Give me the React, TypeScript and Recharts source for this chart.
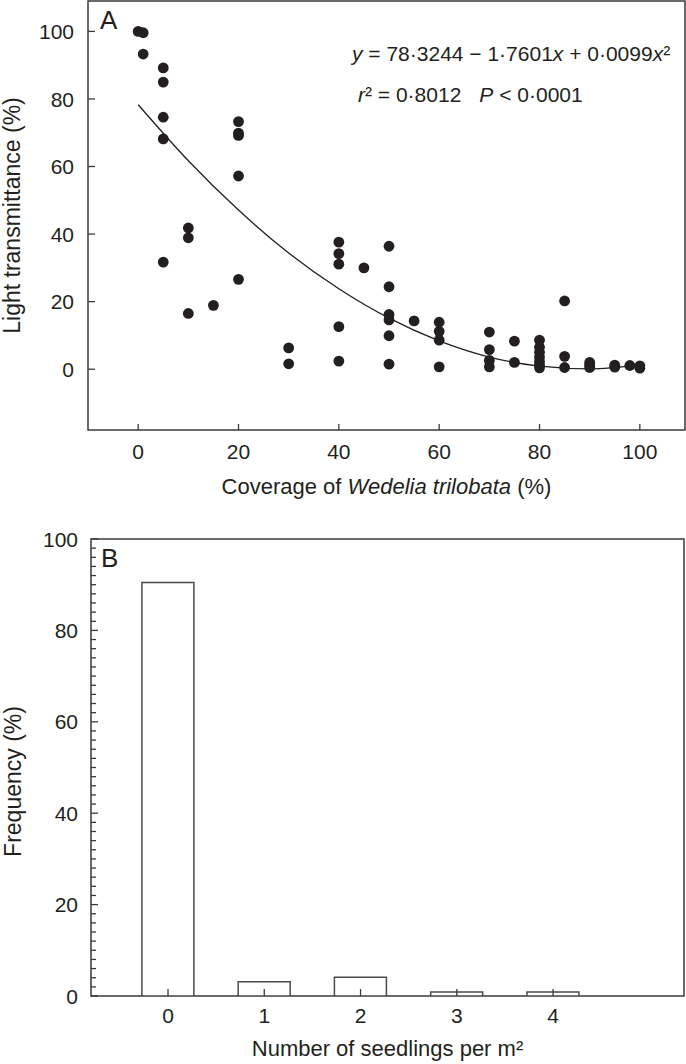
import React from 'react';
import { ComposedChart, Scatter, Line, XAxis, YAxis, BarChart, Bar, ReferenceArea } from 'recharts';

// panel A: light transmittance vs Wedelia cover
const coverage = [
  0, 1, 1,
  5, 5, 5, 5, 5,
  10, 10, 10,
  15,
  20, 20, 20, 20, 20,
  30, 30,
  40, 40, 40, 40, 40,
  45,
  50, 50, 50, 50, 50, 50,
  55,
  60, 60, 60, 60,
  70, 70, 70, 70,
  75, 75,
  80, 80, 80, 80, 80, 80, 80,
  85, 85, 85,
  90, 90, 90,
  95, 95,
  98,
  100, 100,
];
const transmittance = [
  100, 99.6, 93.3,
  89.2, 85.0, 74.6, 68.2, 31.7,
  41.8, 38.9, 16.5,
  18.9,
  73.3, 69.9, 69.2, 57.2, 26.6,
  6.3, 1.6,
  37.6, 34.2, 31.1, 12.6, 2.4,
  30.0,
  36.4, 24.4, 16.2, 14.6, 9.9, 1.5,
  14.3,
  13.9, 11.2, 8.6, 0.7,
  11.0, 5.8, 2.6, 0.7,
  8.3, 2.0,
  8.6, 6.5, 5.0, 3.6, 2.3, 1.2, 0.4,
  20.2, 3.8, 0.5,
  2.0, 1.2, 0.5,
  1.2, 0.6,
  1.1,
  1.0, 0.3,
];

// fitted curve as drawn
const fitX = [0, 10, 20, 30, 40, 50, 60, 70, 80, 90, 100];
const fitY = [78.3, 61.7, 47.1, 34.4, 23.8, 15.1, 8.4, 3.6, 0.9, 0.1, 1.3];

const xTicksA = [0, 20, 40, 60, 80, 100];
const yTicksA = [0, 20, 40, 60, 80, 100];

// panel B: seedling frequency
const seedlings = [0, 1, 2, 3, 4];
const frequency = [90.5, 3.1, 4.1, 0.9, 0.9];
const yTicksB: number[] = [];
for (let v = 0; v <= 100; v += 2) yTicksB.push(v);

const FONT = '"Liberation Sans", Arial, sans-serif';
const INK = '#231f20';
const AXIS = '#3a3a3a';

const scatterData = coverage.map((x, i) => ({ x, y: transmittance[i] }));
const fitData = fitX.map((x, i) => ({ x, y: fitY[i] }));
const barData = seedlings.map((n, i) => ({ n, f: frequency[i] }));

const BottomTick = (props: any) => {
  const { x, y, payload, len, gap } = props;
  return (
    <g>
      <line x1={x} y1={y} x2={x} y2={y - len} stroke={AXIS} strokeWidth={1.3} />
      <text x={x} y={y + gap} textAnchor="middle" fontSize={21} fontFamily={FONT} fill={INK}>
        {payload.value}
      </text>
    </g>
  );
};

const LeftTick = (props: any) => {
  const { x, y, payload, gap } = props;
  const major = payload.value % 20 === 0;
  return (
    <g>
      <line x1={x} y1={y} x2={x + (major ? 7 : 5)} y2={y} stroke={AXIS} strokeWidth={1.3} />
      {major && (
        <text x={x - gap} y={y} dy="0.36em" textAnchor="end" fontSize={21} fontFamily={FONT} fill={INK}>
          {payload.value}
        </text>
      )}
    </g>
  );
};

const YTitle = (props: any) => {
  const { viewBox, text, off, shift } = props;
  const cx = viewBox.x + off;
  const cy = viewBox.y + viewBox.height / 2 + (shift || 0);
  return (
    <text x={cx} y={cy} transform={`rotate(-90, ${cx}, ${cy})`} textAnchor="middle" fontSize={23} fontFamily={FONT} fill={INK}>
      {text}
    </text>
  );
};

const XTitleA = (props: any) => {
  const { x, y, width } = props.viewBox;
  return (
    <text x={x + width / 2} y={y + 64} textAnchor="middle" fontSize={22} fontFamily={FONT} fill={INK}>
      {'Coverage of '}
      <tspan fontStyle="italic">Wedelia trilobata</tspan>
      {' (%)'}
    </text>
  );
};

const XTitleB = (props: any) => {
  const { x, y, width } = props.viewBox;
  return (
    <text x={x + width / 2} y={y + 60} textAnchor="middle" fontSize={22} fontFamily={FONT} fill={INK}>
      Number of seedlings per m²
    </text>
  );
};

const PanelA = (props: any) => {
  const { x, y } = props.viewBox;
  return (
    <g fontFamily={FONT} fill={INK}>
      <text x={x + 12} y={y + 28} fontSize={26}>A</text>
      <text x={x + 264} y={y + 60} fontSize={21}>
        <tspan fontStyle="italic">y</tspan>
        {' = 78·3244 − 1·7601'}
        <tspan fontStyle="italic">x</tspan>
        {' + 0·0099'}
        <tspan fontStyle="italic">x</tspan>
        {'²'}
      </text>
      <text x={x + 270} y={y + 101} fontSize={21}>
        <tspan fontStyle="italic">r</tspan>
        {'² = 0·8012'}
        <tspan fontStyle="italic" dx={18}>P</tspan>
        {' < 0·0001'}
      </text>
    </g>
  );
};

const PanelB = (props: any) => {
  const { x, y } = props.viewBox;
  return (
    <text x={x + 10} y={y + 28} fontSize={26} fontFamily={FONT} fill={INK}>B</text>
  );
};

export default function App() {
  return (
    <div style={{ position: 'absolute', left: 0, top: 0, width: 686, height: 1064, background: '#fff', fontFamily: FONT }}>
      <div style={{ position: 'absolute', left: 0, top: 0 }}>
        <ComposedChart width={686} height={510} margin={{ top: 1, right: 1, bottom: 0, left: 0 }}>
          <XAxis
            type="number"
            dataKey="x"
            domain={[-10, 109]}
            ticks={xTicksA}
            interval={0}
            allowDataOverflow
            axisLine={false}
            tickLine={false}
            tickSize={0}
            tickMargin={0}
            height={80}
            tick={<BottomTick len={6} gap={29} />}
            label={<XTitleA />}
          />
          <YAxis
            type="number"
            dataKey="y"
            domain={[-18, 109]}
            ticks={yTicksA}
            interval={0}
            allowDataOverflow
            axisLine={false}
            tickLine={false}
            tickSize={0}
            tickMargin={0}
            width={88}
            tick={<LeftTick gap={14} />}
            label={<YTitle text="Light transmittance (%)" off={20} />}
          />
          <ReferenceArea x1={-10} x2={109} y1={-18} y2={109} fill="none" stroke={AXIS} strokeWidth={1.5} fillOpacity={0} label={<PanelA />} />
          <Line data={fitData} dataKey="y" type="monotone" stroke={INK} strokeWidth={1.3} dot={false} isAnimationActive={false} />
          <Scatter
            data={scatterData}
            dataKey="y"
            isAnimationActive={false}
            shape={(p: any) => <circle cx={p.cx} cy={p.cy} r={5.4} fill={INK} />}
          />
        </ComposedChart>
      </div>
      <div style={{ position: 'absolute', left: 0, top: 510 }}>
        <BarChart width={686} height={554} data={barData} margin={{ top: 29, right: 2, bottom: 0, left: 0 }}>
          <XAxis
            type="number"
            dataKey="n"
            domain={[-0.8, 5.36]}
            ticks={seedlings}
            interval={0}
            allowDataOverflow
            axisLine={false}
            tickLine={false}
            tickSize={0}
            tickMargin={0}
            height={68}
            tick={<BottomTick len={7} gap={27} />}
            label={<XTitleB />}
          />
          <YAxis
            type="number"
            domain={[0, 100]}
            ticks={yTicksB}
            interval={0}
            allowDataOverflow
            axisLine={false}
            tickLine={false}
            tickSize={0}
            tickMargin={0}
            width={91}
            tick={<LeftTick gap={13} />}
            label={<YTitle text="Frequency (%)" off={21} shift={14} />}
          />
          <Bar dataKey="f" barSize={52} fill="#fff" stroke="#4a4a4a" strokeWidth={1.5} isAnimationActive={false} />
          <ReferenceArea x1={-0.8} x2={5.36} y1={0} y2={100} fill="none" fillOpacity={0} stroke={AXIS} strokeWidth={1.5} label={<PanelB />} />
        </BarChart>
      </div>
    </div>
  );
}
